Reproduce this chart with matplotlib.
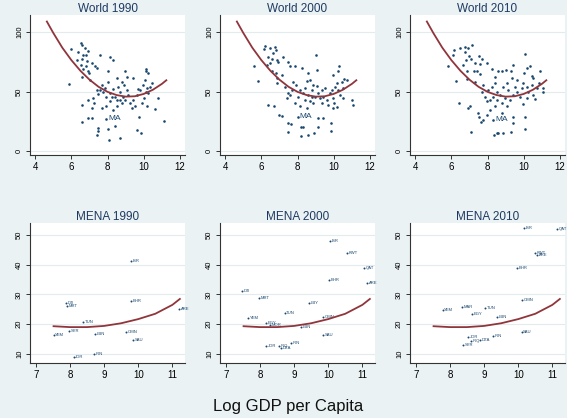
import numpy as np
import matplotlib
matplotlib.use('Agg')
import matplotlib.pyplot as plt

plt.rcParams['font.family'] = ['Liberation Sans', 'DejaVu Sans']

# World panels: log GDP per capita vs index
w1990_x = [5.99, 6.52, 6.57, 6.76, 6.39, 6.90, 6.63, 6.81, 6.33, 6.61, 6.89, 7.13, 6.54, 6.81, 7.31,
           7.40, 6.67, 6.90, 6.98, 6.57, 7.03, 7.58, 8.14, 8.28, 8.00, 8.96, 10.10, 10.12, 10.21, 5.89,
           6.57, 6.90, 7.13, 7.27, 6.90, 7.15, 6.57, 7.46, 7.49, 7.40, 8.04, 8.08, 8.69, 8.41, 9.61,
           9.83, 9.75, 11.13, 10.62, 10.80, 7.68, 7.86, 8.04, 7.77, 7.58, 7.49, 7.92, 8.14, 8.32, 8.41,
           8.60, 8.69, 8.78, 8.91, 9.06, 9.15, 8.96, 8.78, 8.54, 8.32, 7.92, 7.68, 8.14, 9.24, 9.42,
           9.33, 9.52, 9.61, 9.79, 9.94, 10.07, 10.16, 10.25, 10.01, 9.88, 10.16, 10.34, 10.43, 9.39, 9.06,
           8.50, 7.40, 7.22, 8.23, 8.87, 8.69, 9.70, 10.12, 8.50]
w1990_y = [86.0, 91.3, 89.3, 87.1, 82.9, 84.3, 80.9, 80.9, 76.7, 77.2, 75.8, 73.9, 72.5, 71.1, 71.1,
           69.7, 68.8, 66.9, 65.4, 62.6, 59.8, 80.9, 78.9, 76.7, 66.9, 67.4, 68.8, 66.9, 65.4, 56.5,
           38.8, 43.0, 36.0, 40.2, 28.1, 27.5, 24.7, 19.1, 17.1, 13.5, 18.5, 9.3, 10.7, 21.1, 17.7,
           14.9, 28.4, 25.3, 35.1, 44.4, 55.6, 52.8, 58.4, 49.2, 51.4, 48.0, 45.8, 48.6, 52.0, 45.8,
           54.2, 50.0, 58.4, 55.6, 51.4, 47.2, 43.0, 40.2, 37.4, 34.6, 37.4, 36.0, 41.6, 40.2, 43.0,
           36.0, 37.9, 47.2, 51.4, 55.6, 59.8, 52.8, 48.6, 44.4, 40.2, 37.4, 54.2, 57.0, 61.2, 62.1,
           61.2, 51.4, 44.4, 45.8, 45.8, 43.0, 52.0, 50.0, 43.0]

w2000_x = [6.15, 6.21, 6.48, 6.76, 6.81, 6.67, 6.39, 6.57, 6.85, 6.94, 7.18, 6.48, 6.30, 7.49, 7.58,
           6.57, 6.81, 7.13, 6.85, 6.89, 5.60, 5.84, 7.86, 8.23, 8.60, 9.02, 9.09, 10.29, 10.25, 9.97,
           10.58, 10.43, 10.71, 10.16, 10.99, 11.08, 6.39, 6.72, 6.99, 7.13, 7.46, 7.64, 7.49, 8.17, 8.28,
           8.19, 8.56, 8.91, 9.15, 9.15, 9.42, 9.85, 9.86, 9.97, 10.16, 8.50, 7.40, 7.49, 7.68, 7.92,
           7.77, 7.31, 8.14, 8.32, 8.04, 7.86, 8.14, 8.41, 8.60, 8.78, 8.87, 9.06, 8.96, 8.69, 8.87,
           9.24, 9.33, 9.52, 9.42, 9.61, 9.79, 9.88, 10.07, 10.25, 10.34, 10.48, 9.97, 9.70, 8.50, 8.69,
           7.58, 9.15, 9.33, 8.41, 10.52, 10.01, 8.78]
w2000_y = [86.0, 88.5, 87.1, 87.9, 84.6, 82.3, 78.9, 77.5, 76.7, 75.3, 78.9, 74.4, 72.5, 74.7, 71.1,
           67.7, 65.4, 64.0, 61.2, 57.0, 71.1, 59.0, 71.1, 70.2, 65.4, 80.9, 68.3, 71.6, 66.9, 64.0,
           60.4, 58.4, 59.8, 57.0, 43.0, 38.8, 38.8, 37.4, 30.3, 29.5, 23.3, 22.5, 16.3, 20.5, 19.9,
           12.6, 13.5, 14.9, 19.9, 27.5, 28.1, 23.3, 16.9, 36.0, 36.8, 36.0, 44.4, 48.6, 51.4, 55.6,
           58.4, 54.2, 51.4, 48.6, 45.8, 40.2, 37.4, 43.0, 47.2, 51.4, 55.6, 54.8, 45.8, 41.6, 40.2,
           44.4, 51.4, 52.8, 45.8, 43.0, 48.6, 51.4, 54.2, 51.4, 47.2, 44.4, 44.4, 38.8, 59.0, 59.8,
           46.9, 48.6, 40.2, 52.8, 52.8, 40.7, 45.8]

w2010_x = [6.15, 6.11, 6.48, 6.76, 6.90, 7.13, 6.76, 7.00, 6.81, 7.07, 7.53, 7.68, 7.31, 7.58, 7.95,
           6.67, 5.80, 6.85, 7.25, 7.40, 7.58, 6.89, 7.31, 6.24, 8.23, 8.60, 8.41, 8.78, 9.02, 9.39,
           9.28, 10.07, 10.16, 10.34, 10.01, 10.52, 10.89, 11.08, 11.05, 6.44, 6.94, 7.03, 7.09, 7.46, 7.55,
           7.64, 7.77, 7.95, 8.38, 8.50, 8.60, 8.87, 9.30, 9.39, 9.42, 10.07, 10.07, 8.14, 8.41, 7.95,
           7.86, 7.68, 8.04, 8.23, 8.41, 8.54, 8.69, 8.32, 8.14, 8.87, 9.06, 9.15, 8.96, 8.78, 9.24,
           9.42, 9.52, 9.61, 9.79, 9.88, 9.97, 10.16, 10.25, 10.43, 10.52, 10.62, 10.71, 10.86, 10.16, 9.97,
           8.50, 8.78, 9.06, 10.43, 9.61, 9.33, 7.77]
w2010_y = [84.6, 80.9, 86.5, 87.4, 86.5, 89.3, 82.9, 80.1, 76.7, 77.2, 80.1, 77.2, 73.9, 73.3, 73.9,
           72.5, 71.1, 67.4, 67.7, 66.9, 64.9, 60.7, 58.4, 59.0, 68.8, 66.9, 62.6, 67.4, 68.3, 72.5,
           66.9, 81.5, 69.7, 71.1, 66.0, 61.2, 66.9, 52.8, 50.0, 40.2, 36.0, 37.9, 16.3, 31.7, 28.9,
           24.7, 25.6, 30.3, 13.5, 14.9, 15.4, 14.9, 16.3, 23.3, 28.4, 28.4, 18.3, 34.6, 37.4, 41.6,
           45.8, 50.0, 51.4, 54.2, 57.0, 50.0, 47.2, 45.8, 43.0, 54.2, 57.0, 51.4, 44.4, 40.2, 43.0,
           47.2, 54.2, 50.0, 45.8, 52.8, 57.0, 54.2, 50.0, 55.6, 47.2, 43.5, 52.8, 57.0, 44.4, 39.6,
           43.0, 31.7, 37.4, 63.2, 59.8, 61.2, 55.6]

# the one labelled point in each world panel
ma_x = [7.93, 8.00, 8.32]
ma_y = [27.0, 28.9, 26.1]

# quadratic fit lines
world_fit_x = [4.65, 5.0, 5.5, 6.0, 6.5, 7.0, 7.5, 8.0, 8.5, 9.0, 9.5, 10.0, 10.5, 11.0, 11.24]
world_fit_y = [109, 99.5, 87, 76.5, 67.5, 60, 54, 49.7, 47, 45.7, 46, 48, 51.5, 56.5, 59.5]
mena_fit_x = [7.52, 8.0, 8.5, 9.0, 9.5, 10.0, 10.5, 11.0, 11.22]
mena_fit_y = [19.3, 19.0, 19.0, 19.4, 20.3, 21.7, 23.5, 26.5, 28.5]

# MENA panels
m1990_lab = ['ISR', 'BHR', 'ARE', 'DJI', 'MRT', 'TUN', 'SYR', 'YEM', 'LBN', 'OMN', 'SAU', 'JOR', 'IRN']
m1990_x = [9.78, 9.78, 11.20, 7.87, 7.90, 8.39, 7.98, 7.52, 8.74, 9.64, 9.84, 8.11, 8.71]
m1990_y = [41.3, 27.9, 25.0, 27.2, 26.1, 20.8, 17.8, 16.3, 16.6, 17.4, 14.5, 8.8, 9.9]

m2000_lab = ['ISR', 'KWT', 'QAT', 'BHR', 'ARE', 'DJI', 'MRT', 'LBY', 'TUN', 'YEM', 'OMN', 'EGY',
             'MOR', 'LBN', 'SAU', 'JOR', 'IRN', 'IRQ', 'DZA']
m2000_x = [10.05, 10.56, 11.05, 10.02, 11.14, 7.48, 7.97, 9.44, 8.72, 7.65, 9.86, 8.18,
           8.30, 9.20, 9.86, 8.18, 8.91, 8.57, 8.63]
m2000_y = [48.0, 44.1, 39.0, 34.9, 33.8, 31.3, 28.9, 27.2, 23.7, 22.0, 22.5, 20.3,
           19.6, 19.0, 16.3, 12.5, 13.6, 12.5, 11.8]

m2010_lab = ['ISR', 'QAT', 'KWT', 'ARE', 'BHR', 'OMN', 'MAR', 'YEM', 'TUN', 'EGY', 'LBN', 'SAU',
             'IRN', 'JOR', 'IRQ', 'DZA', 'SYR']
m2010_x = [10.17, 11.13, 10.49, 10.55, 9.96, 10.10, 8.34, 7.79, 9.03, 8.64, 9.39, 10.10,
           9.27, 8.53, 8.63, 8.88, 8.38]
m2010_y = [52.4, 52.0, 43.9, 43.2, 39.0, 28.0, 25.9, 24.9, 25.3, 23.4, 22.4, 17.4,
           15.9, 15.5, 14.4, 14.6, 12.9]

bg = '#eaf2f3'
navy = '#1a476f'
red = '#90353b'
grid = '#e2ecee'

fig = plt.figure(figsize=(5.67, 4.18), dpi=100, facecolor=bg)

W, H = 567, 418
lefts = [30, 220, 410]


def style(ax, title, xt, yt):
    ax.set_facecolor('white')
    for s in ['top', 'right']:
        ax.spines[s].set_visible(False)
    for s in ['left', 'bottom']:
        ax.spines[s].set_color('#333333')
        ax.spines[s].set_linewidth(0.8)
    ax.set_xticks(xt)
    ax.set_yticks(yt)
    ax.tick_params(axis='both', direction='out', length=3, width=0.7, color='#333333')
    ax.tick_params(axis='x', labelsize=7, pad=2)
    ax.tick_params(axis='y', labelsize=5.5, pad=2, labelrotation=90)
    for lab in ax.get_yticklabels():
        lab.set_va('center')
    ax.yaxis.grid(True, color=grid, lw=0.8)
    ax.set_axisbelow(True)
    ax.set_title(title, fontsize=8.5, color='#1e3a63', pad=2)


world = [('World 1990', w1990_x, w1990_y), ('World 2000', w2000_x, w2000_y),
         ('World 2010', w2010_x, w2010_y)]
for i, (t, xs, ys) in enumerate(world):
    ax = fig.add_axes([lefts[i] / W, 1 - 155 / H, 155 / W, 140 / H])
    ax.scatter(xs, ys, s=3.5, color=navy, lw=0, zorder=3)
    ax.scatter([ma_x[i]], [ma_y[i]], s=3.5, color=navy, lw=0, zorder=3)
    ax.annotate('MA', (ma_x[i], ma_y[i]), xytext=(1.5, 0), textcoords='offset points',
                fontsize=6, color=navy, va='center')
    ax.plot(world_fit_x, world_fit_y, color=red, lw=1.3, zorder=4)
    ax.set_xlim(3.72, 12.27)
    ax.set_ylim(-3.5, 114.5)
    style(ax, t, [4, 6, 8, 10, 12], [0, 50, 100])

mena = [('MENA 1990', m1990_x, m1990_y, m1990_lab), ('MENA 2000', m2000_x, m2000_y, m2000_lab),
        ('MENA 2010', m2010_x, m2010_y, m2010_lab)]
for i, (t, xs, ys, labs) in enumerate(mena):
    ax = fig.add_axes([lefts[i] / W, 1 - 363 / H, 155 / W, 140 / H])
    ax.scatter(xs, ys, s=2, color=navy, lw=0, zorder=3)
    for x, y, l in zip(xs, ys, labs):
        ax.annotate(l, (x, y), xytext=(1.2, 0), textcoords='offset points',
                    fontsize=3, color=navy, va='center')
    ax.plot(mena_fit_x, mena_fit_y, color=red, lw=1.3, zorder=4)
    ax.set_xlim(6.83, 11.37)
    ax.set_ylim(6.9, 54.1)
    style(ax, t, [7, 8, 9, 10, 11], [10, 20, 30, 40, 50])

fig.text(288 / W, 1 - 407 / H, 'Log GDP per Capita', fontsize=12, ha='center', va='center',
         color='#111111')

fig.savefig('out.png', dpi=100, facecolor=bg)
